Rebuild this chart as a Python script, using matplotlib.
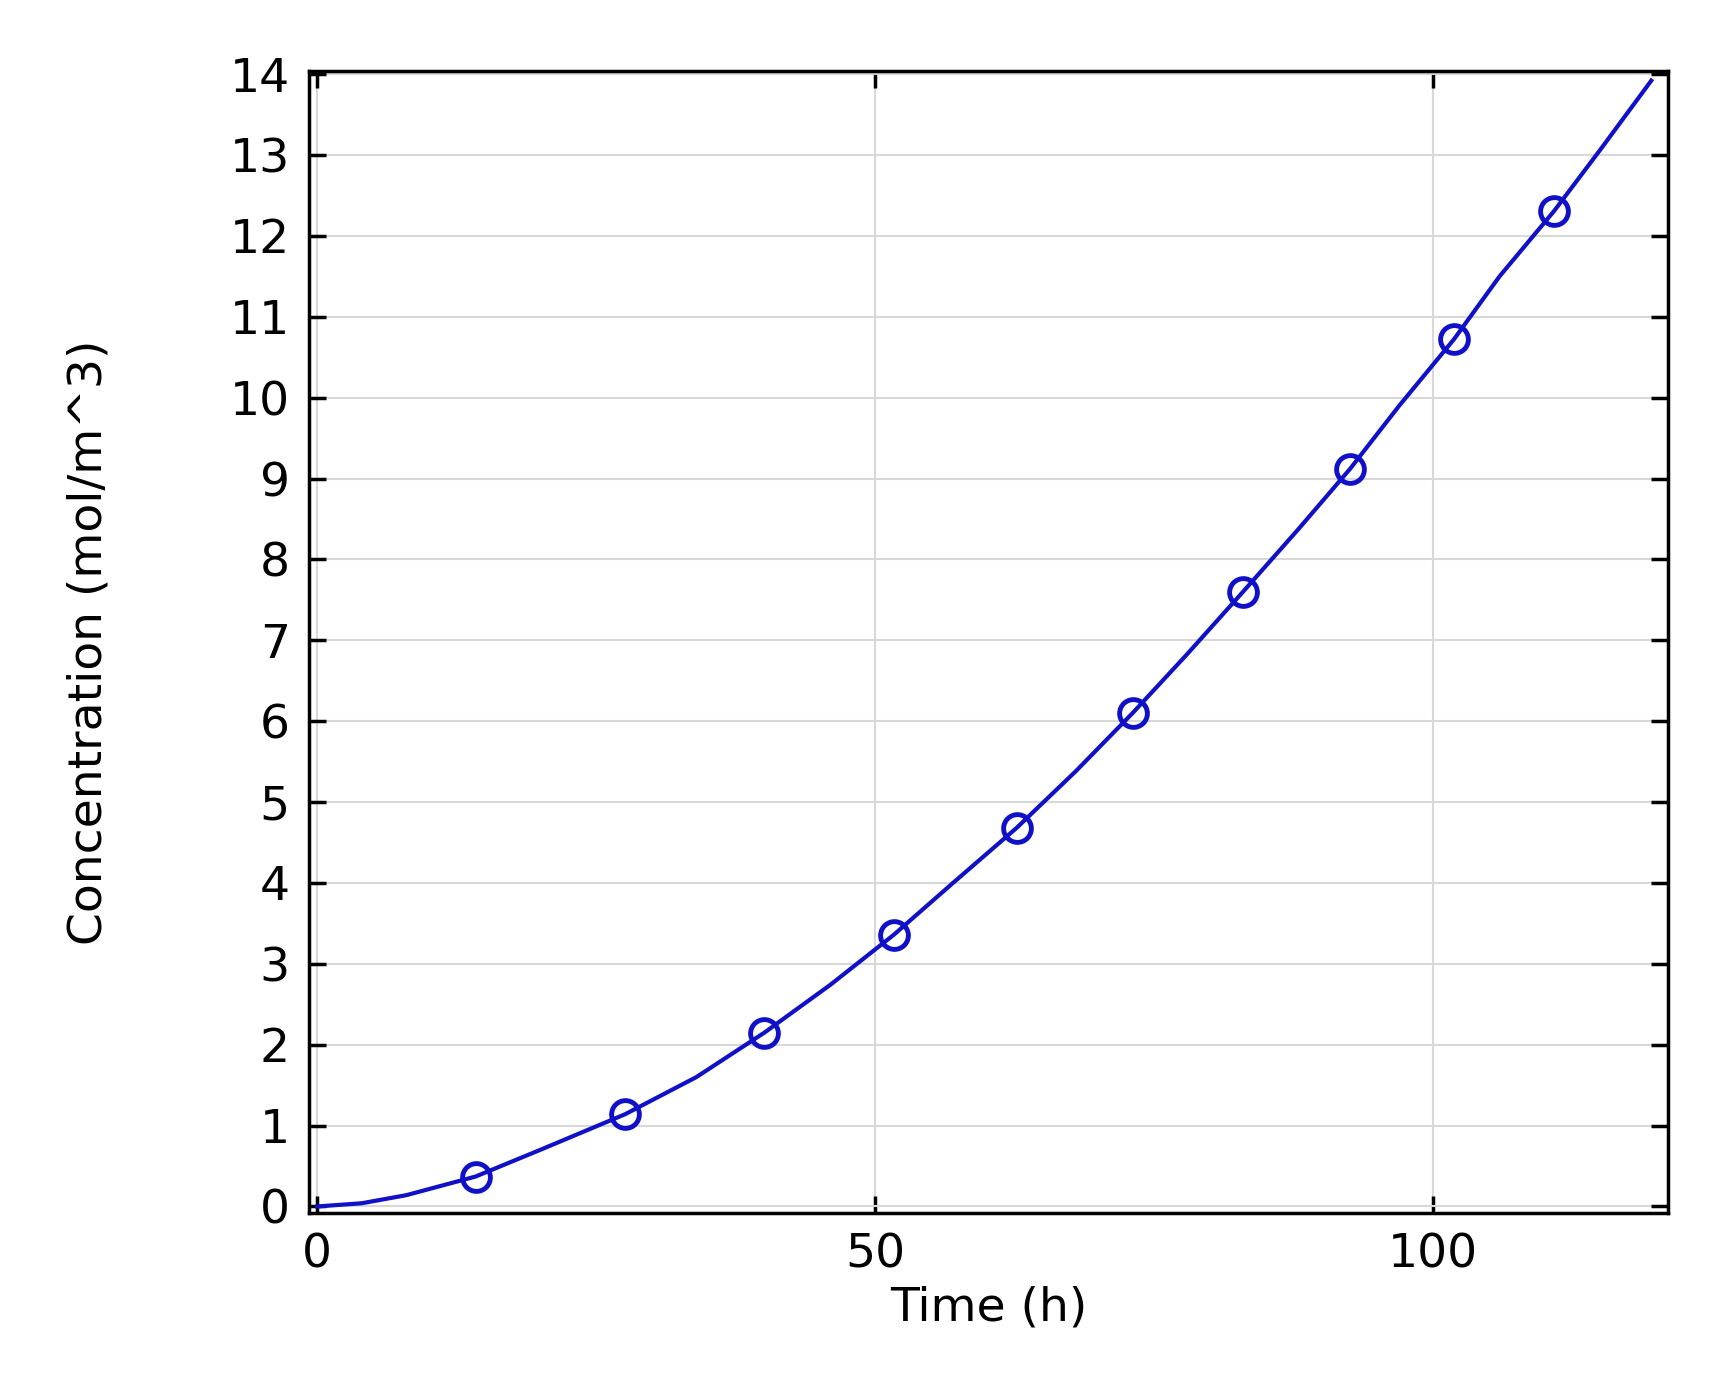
import matplotlib
matplotlib.use("Agg")
import matplotlib.pyplot as plt

line_t = [0, 4, 8, 14.2, 20, 27.6, 34, 40.1, 46, 51.7, 57, 62.7, 68, 73.1, 78, 83.0, 88, 92.6, 97, 101.9, 106, 110.9, 115, 119.6]
line_c = [0, 0.04, 0.14, 0.37, 0.70, 1.14, 1.60, 2.15, 2.74, 3.36, 4.00, 4.68, 5.38, 6.10, 6.83, 7.60, 8.38, 9.12, 9.90, 10.72, 11.50, 12.31, 13.06, 13.92]
mark_t = [14.2, 27.6, 40.1, 51.7, 62.7, 73.1, 83.0, 92.6, 101.9, 110.9]
mark_c = [0.37, 1.14, 2.15, 3.36, 4.68, 6.10, 7.60, 9.12, 10.72, 12.31]
yticks = list(range(0, 15))
xticks = [0, 50, 100]

fig = plt.figure(figsize=(17.09, 13.91), dpi=100)
ax = fig.add_axes([0.181, 0.128, 0.795, 0.821])
ax.plot(line_t, line_c, color="#1010c8", lw=3)
ax.plot(mark_t, mark_c, 'o', mfc='none', mec="#1010c8", mew=3.5, ms=20)
ax.set_xlim(-0.7, 121.1)
ax.set_ylim(-0.08, 14.04)
ax.set_xticks(xticks)
ax.set_yticks(yticks)
ax.grid(True, color="#d8d8d8", lw=1.5)
ax.tick_params(direction='in', length=12, width=2.5, top=True, right=True, labelsize=34, pad=14)
for s in ax.spines.values():
    s.set_linewidth(2.5)
ax.set_xlabel("Time (h)", fontsize=34, labelpad=6)
ax.set_ylabel("Concentration (mol/m^3)", fontsize=34, labelpad=85)
fig.savefig("out.png", dpi=100)
